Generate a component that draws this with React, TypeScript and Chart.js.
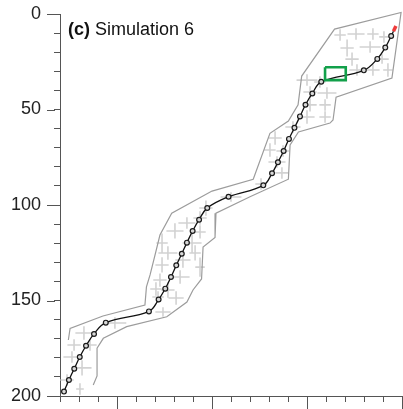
import React, { useEffect, useRef } from 'react';
import { Chart, registerables } from 'chart.js';

Chart.register(...registerables);

// Main path (black line with circle markers); last point is the end at the red mark
const pathX = [-27.9, -25.3, -22.5, -19.6, -16.3, -12.1, -5.9, 16.8, 21.9, 25.4, 28.4, 31.2, 34.1, 36.8, 39.8, 43.2, 47.5, 58.7, 77.0, 81.6, 84.7, 87.7, 90.5, 93.4, 96.3, 99.2, 102.8, 107.5, 129.9, 137.0, 141.2, 144.3, 145.5];
const pathY = [197.7, 191.6, 185.7, 179.6, 173.7, 167.5, 161.6, 155.7, 149.5, 143.8, 137.7, 131.6, 125.5, 119.7, 113.6, 107.7, 101.6, 95.7, 89.7, 83.4, 77.6, 71.7, 65.4, 59.6, 53.6, 47.5, 41.6, 35.5, 29.5, 23.5, 17.6, 11.5, 9.0];

// Gray envelope outline (open at the bottom)
const outlineX = [-25.6, -24.7, -7.4, 14.7, 15.5, 17.4, 20.0, 22.6, 28.8, 50.0, 71.7, 80.5, 90.2, 95.3, 97.2, 114.5, 149.5, 144.7, 115.3, 113.7, 112.1, 95.5, 91.1, 90.2, 70.0, 52.1, 51.6, 45.3, 44.5, 40.0, 36.8, 26.2, 5.1, -7.2, -10.5, -10.5, -12.5];
const outlineY = [170.7, 164.6, 158.1, 152.4, 142.9, 136.6, 126.2, 115.7, 104.3, 92.7, 86.5, 62.5, 56.0, 47.6, 32.5, 7.9, -0.8, 33.5, 43.5, 55.5, 57.1, 61.8, 68.6, 86.5, 95.7, 104.3, 117.0, 122.0, 138.7, 144.5, 150.8, 158.5, 163.7, 169.8, 174.9, 189.5, 194.2];

// Light gray crosses (center, half-width, half-height)
const crossX = [117.4, 125.8, 134.7, 140.5, 121.1, 133.2, 123.7, 139.5, 126.3, 134.7, 142.6, 100.0, 106.8, 101.6, 110.5, 101.6, 109.5, 100.0, 109.5, 92.6, 83.2, 80.5, 87.4, 84.2, 86.8, 75.8, 60.0, 46.8, 43.7, 36.8, 30.5, 43.7, 23.7, 39.5, 26.8, 41.1, 34.7, 23.7, 43.7, 33.2, 22.6, 20.5, 26.8, 31.1, 21.6, 24.2, -1.1, -17.4, -22.6, -14.2, -23.7, -18.4, -26.3, -19.5];
const crossY = [11.0, 10.5, 10.5, 12.0, 17.8, 17.3, 23.6, 23.6, 29.3, 29.3, 29.3, 34.6, 35.6, 40.8, 41.4, 47.6, 47.6, 53.9, 53.9, 59.2, 64.9, 71.2, 71.7, 77.5, 83.2, 89.0, 95.8, 101.6, 106.8, 109.4, 113.6, 114.1, 119.9, 119.9, 125.1, 125.1, 128.8, 131.4, 132.5, 137.7, 139.3, 144.0, 144.5, 148.7, 148.2, 156.0, 161.8, 167.0, 173.3, 173.3, 179.6, 185.3, 191.6, 196.3];
const crossDX = [3, 4.5, 3, 2.5, 3.5, 5.5, 3.5, 3.5, 4, 3.5, 2.5, 5.5, 3, 3.5, 5, 3.5, 3, 4, 3, 4, 3.5, 3, 3.5, 4.5, 3.5, 3, 5.5, 3.5, 3.5, 4.5, 4.5, 3, 3, 5, 5, 3, 4, 3.5, 2.5, 5, 3.5, 3, 3.5, 4, 3, 4, 6, 4.5, 3.5, 3.5, 4.5, 5, 3.5, 2];
const crossDY = [3, 3, 3, 3, 4.5, 3, 3.5, 2.5, 3, 3, 3.5, 3, 3, 3, 3, 3.5, 3, 3.5, 3, 3, 3.5, 3.5, 3, 3, 3, 3, 2.5, 4, 3.5, 3, 4, 3.5, 5, 5, 3.5, 4, 4, 4, 5, 3.5, 3.5, 3.5, 4, 3.5, 3, 2.5, 3, 3.5, 3, 3, 3, 4, 3, 3];

// Green highlight box and red end mark
const boxX = [109.5, 120.4];
const boxY = [27.9, 34.6];
const redX = [145.5, 146.8];
const redY = [9.0, 6.3];

// Axes
const yMajorTicks = [0, 50, 100, 150, 200];
const xMajorTicks = [0, 50, 100, 150];
const titleBold = '(c)';
const titleText = 'Simulation 6';

const AXIS_COLOR = '#555555';
const FONT = '"Liberation Sans", Arial, Helvetica, sans-serif';

export default function App() {
  const ref = useRef<HTMLCanvasElement | null>(null);

  useEffect(() => {
    document.body.style.margin = '0';
    const canvas = ref.current;
    if (!canvas) return;

    const pathData = pathX.map((x, i) => ({ x, y: pathY[i] }));
    const outlineData = outlineX.map((x, i) => ({ x, y: outlineY[i] }));
    const crossData: { x: number; y: number }[] = [];
    crossX.forEach((cx, i) => {
      const cy = crossY[i];
      crossData.push({ x: cx - crossDX[i], y: cy });
      crossData.push({ x: cx + crossDX[i], y: cy });
      crossData.push({ x: NaN, y: NaN });
      crossData.push({ x: cx, y: cy - crossDY[i] });
      crossData.push({ x: cx, y: cy + crossDY[i] });
      crossData.push({ x: NaN, y: NaN });
    });
    const boxData = [
      { x: boxX[0], y: boxY[0] },
      { x: boxX[1], y: boxY[0] },
      { x: boxX[1], y: boxY[1] },
      { x: boxX[0], y: boxY[1] },
      { x: boxX[0], y: boxY[0] },
    ];
    const redData = redX.map((x, i) => ({ x, y: redY[i] }));
    const pointRadii = pathX.map((_, i) => (i === pathX.length - 1 ? 0 : 2.4));

    const extras = {
      id: 'extras',
      afterDraw(chart: any) {
        const { ctx, scales } = chart;
        const xs = scales.x;
        const ys = scales.y;
        ctx.save();
        ctx.strokeStyle = AXIS_COLOR;
        ctx.lineWidth = 1;
        ctx.beginPath();
        for (const v of yMajorTicks) {
          const py = Math.round(ys.getPixelForValue(v)) + 0.5;
          ctx.moveTo(xs.left - 13, py);
          ctx.lineTo(xs.left - 5, py);
        }
        for (const v of xMajorTicks) {
          const px = Math.round(xs.getPixelForValue(v)) + 0.5;
          ctx.moveTo(px, ys.bottom + 5);
          ctx.lineTo(px, ys.bottom + 14);
        }
        ctx.stroke();
        ctx.fillStyle = '#111111';
        ctx.textBaseline = 'alphabetic';
        ctx.textAlign = 'left';
        ctx.font = 'bold 18px ' + FONT;
        ctx.fillText(titleBold, 68, 35);
        const w = ctx.measureText(titleBold + ' ').width;
        ctx.font = '18px ' + FONT;
        ctx.fillText(titleText, 68 + w, 35);
        ctx.restore();
      },
    };

    const chart = new Chart(canvas, {
      type: 'scatter',
      data: {
        datasets: [
          {
            data: redData,
            showLine: true,
            borderColor: '#ee3b3b',
            borderWidth: 3.5,
            pointRadius: 0,
            order: 0,
            clip: false as any,
          },
          {
            data: boxData,
            showLine: true,
            borderColor: '#12a04a',
            borderWidth: 2.6,
            pointRadius: 0,
            order: 1,
          },
          {
            data: pathData,
            showLine: true,
            borderColor: '#111111',
            borderWidth: 1.3,
            tension: 0.4,
            pointRadius: pointRadii,
            pointBorderWidth: 1.2,
            pointBorderColor: '#1a1a1a',
            pointBackgroundColor: '#d8d8d8',
            order: 2,
          },
          {
            data: outlineData,
            showLine: true,
            borderColor: '#9c9c9c',
            borderWidth: 1.2,
            pointRadius: 0,
            order: 3,
            clip: false as any,
          },
          {
            data: crossData,
            showLine: true,
            spanGaps: false,
            borderColor: '#d2d2d2',
            borderWidth: 1.6,
            pointRadius: 0,
            order: 4,
          },
        ],
      },
      options: {
        animation: false,
        responsive: false,
        maintainAspectRatio: false,
        layout: { autoPadding: false, padding: { top: 14, right: 1, left: 0, bottom: 0 } },
        plugins: {
          legend: { display: false },
          tooltip: { enabled: false },
          title: { display: false },
        },
        scales: {
          x: {
            type: 'linear',
            min: -30,
            max: 150,
            grid: {
              display: true,
              drawOnChartArea: false,
              drawTicks: true,
              tickLength: 6,
              tickColor: AXIS_COLOR,
            },
            border: { display: true, color: AXIS_COLOR, width: 1 },
            ticks: { stepSize: 10, display: false, autoSkip: false },
            afterFit: (s: any) => {
              s.height = 13;
              s.paddingLeft = 0;
              s.paddingRight = 0;
            },
          },
          y: {
            type: 'linear',
            reverse: true,
            min: 0,
            max: 200,
            grid: {
              display: true,
              drawOnChartArea: false,
              drawTicks: true,
              tickLength: 6,
              tickColor: AXIS_COLOR,
            },
            border: { display: true, color: AXIS_COLOR, width: 1 },
            ticks: {
              stepSize: 10,
              autoSkip: false,
              padding: 13,
              color: '#222222',
              font: { family: FONT, size: 18 },
              callback: (v: any) => (yMajorTicks.includes(Number(v)) ? String(v) : ''),
            },
            afterFit: (s: any) => {
              s.width = 60;
              s.paddingTop = 0;
              s.paddingBottom = 0;
            },
          },
        },
      },
      plugins: [extras],
    });

    return () => {
      chart.destroy();
    };
  }, []);

  return (
    <div style={{ width: 403, height: 409 }}>
      <canvas ref={ref} width={403} height={409} style={{ display: 'block' }} />
    </div>
  );
}
